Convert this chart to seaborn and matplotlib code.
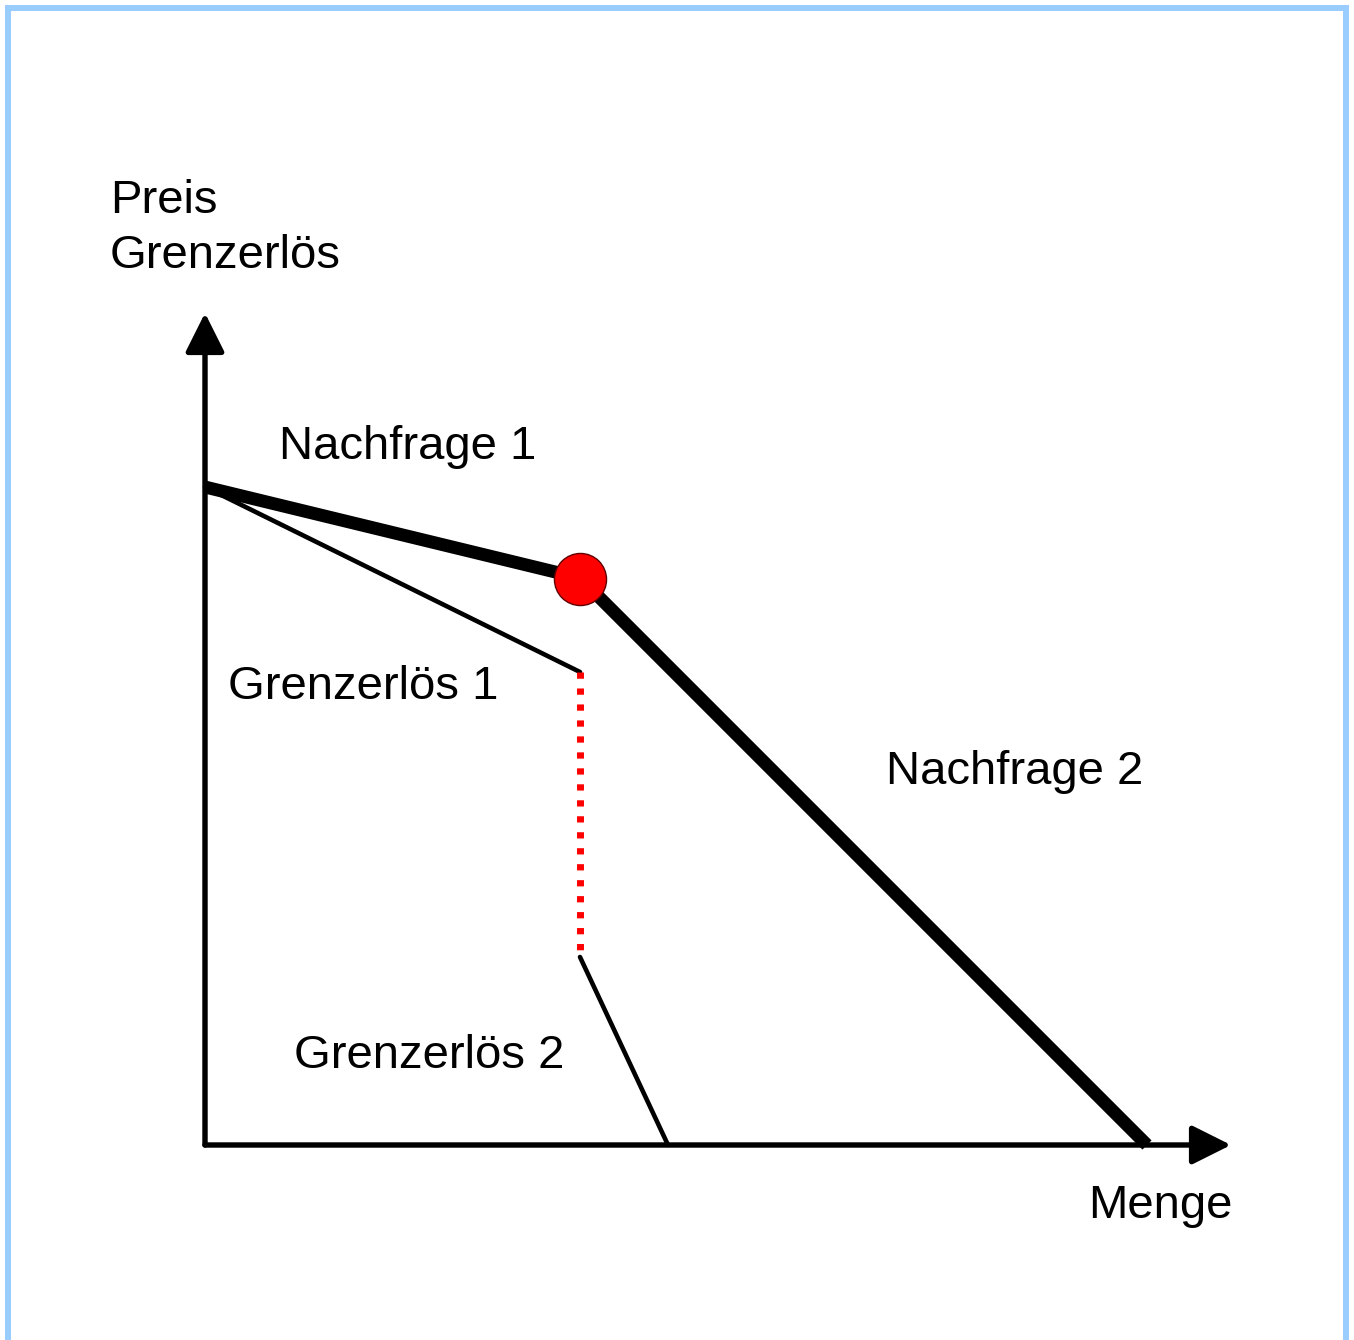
import matplotlib
matplotlib.use("Agg")
import matplotlib.pyplot as plt
import seaborn as sns
import pandas as pd
from matplotlib.patches import Rectangle

# Koordinaten: Ursprung im Schnittpunkt der Achsen (Menge, Preis)
nachfrage_x = [0, 375, 942]
nachfrage_y = [658, 567, 0]

grenzerloes1_x = [0, 375]
grenzerloes1_y = [658, 473]

luecke_x = [375, 375]
luecke_y = [473, 190]

grenzerloes2_x = [375, 463]
grenzerloes2_y = [188, 0]

knick_x = [375]
knick_y = [566]

achse_x_ende = 1026
achse_y_ende = 832

beschriftungen = [
    ("Preis", -95, 932),
    ("Grenzerlös", -95, 877),
    ("Nachfrage 1", 74, 686),
    ("Grenzerlös 1", 23, 446),
    ("Nachfrage 2", 681, 361),
    ("Grenzerlös 2", 89, 77),
    ("Menge", 883, -73),
]

sns.set_theme(style="white")
plt.rcParams['font.family'] = ['Liberation Sans', 'DejaVu Sans']

fig = plt.figure(figsize=(13.54, 13.40), dpi=100)
ax = fig.add_axes([0, 0, 1, 1])
ax.set_xlim(-205, 1149)
ax.set_ylim(-195, 1145)
ax.set_axis_off()

# Achsen mit Pfeilen
pfeil = dict(arrowstyle="-|>,head_length=1.0,head_width=0.5", lw=3.9,
             color="black", mutation_scale=24, shrinkA=0, shrinkB=0)
ax.annotate("", xy=(0, achse_y_ende), xytext=(0, 0), arrowprops=pfeil)
ax.annotate("", xy=(achse_x_ende, 0), xytext=(0, 0), arrowprops=pfeil)

# Nachfragekurve (geknickt)
df_n = pd.DataFrame({"x": nachfrage_x, "y": nachfrage_y})
sns.lineplot(data=df_n, x="x", y="y", estimator=None, sort=False,
             color="black", lw=9.3, ax=ax, solid_capstyle="butt")

# Grenzerlöse
sns.lineplot(x=grenzerloes1_x, y=grenzerloes1_y, estimator=None, sort=False,
             color="black", lw=3.3, ax=ax)
sns.lineplot(x=grenzerloes2_x, y=grenzerloes2_y, estimator=None, sort=False,
             color="black", lw=3.3, ax=ax)
ax.plot(luecke_x, luecke_y, color="red", lw=5, linestyle=(0, (0.9, 1.4)),
        dash_capstyle="butt")

# Knickpunkt
sns.scatterplot(x=knick_x, y=knick_y, s=37.5**2, color="red",
                edgecolor="#600000", linewidth=1.0, ax=ax, zorder=5)

for text, x, y in beschriftungen:
    ax.text(x, y, text, fontsize=34, color="black", ha="left", va="baseline")

# Rahmen
fig.patches.append(Rectangle((7.5 / 1354, -0.05), (1346 - 7.5) / 1354, 1.05 - 7.5 / 1340,
                             transform=fig.transFigure, fill=False,
                             edgecolor="#99CCFF", lw=4.3))

fig.savefig("out.png", dpi=100)
